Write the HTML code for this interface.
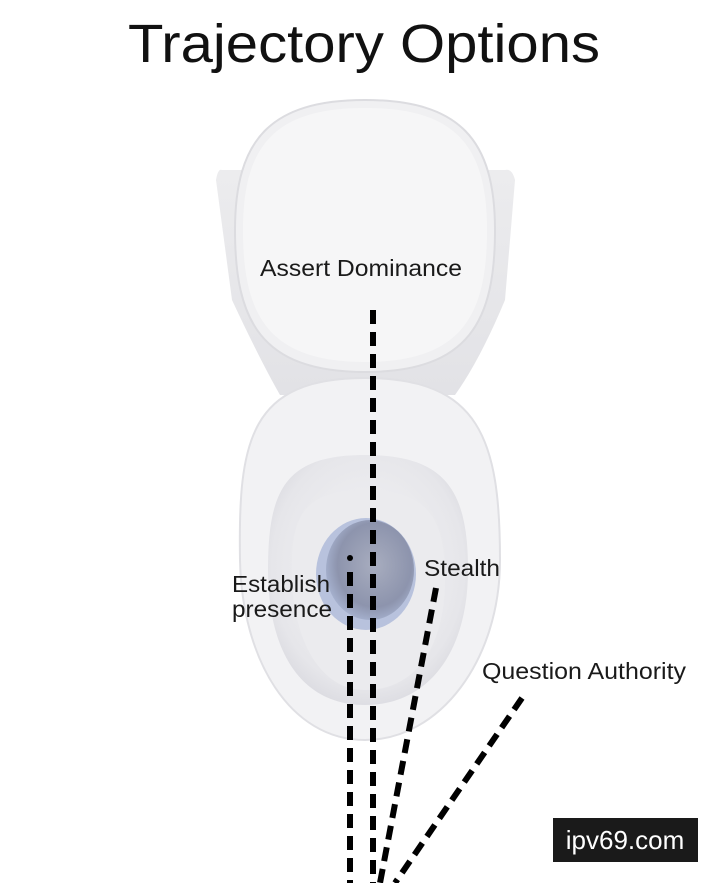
<!DOCTYPE html>
<html><head><style>
html,body{margin:0;padding:0;background:#fff;}
svg{display:block}
</style></head><body>
<svg width="720" height="883" viewBox="0 0 720 883" xmlns="http://www.w3.org/2000/svg">
<defs>
<radialGradient id="bowl" cx="50%" cy="45%" r="60%"><stop offset="0" stop-color="#f4f4f6"/><stop offset="0.8" stop-color="#e6e6ea"/><stop offset="1" stop-color="#d8d8de"/></radialGradient>
<radialGradient id="water" cx="55%" cy="45%" r="60%"><stop offset="0" stop-color="#a8adbf"/><stop offset="0.7" stop-color="#8d94ad"/><stop offset="1" stop-color="#aab6d4"/></radialGradient>
<linearGradient id="tank" x1="0" y1="0" x2="0" y2="1"><stop offset="0" stop-color="#ececee"/><stop offset="1" stop-color="#e2e2e6"/></linearGradient>
</defs>
<rect width="720" height="883" fill="#fff"/>
<text x="128" y="62" textLength="472" lengthAdjust="spacingAndGlyphs" font-family="Liberation Sans, sans-serif" font-size="54" fill="#111">Trajectory Options</text>
<path d="M222 170 Q218 168 216 180 L232 300 Q260 360 280 395 L455 395 Q480 360 505 300 L515 180 Q512 168 505 170 Z" fill="url(#tank)"/>
<path d="M365 378 C250 378 238 440 240 560 C242 660 290 740 365 740 C440 740 500 660 500 560 C500 440 480 378 365 378 Z" fill="#f2f2f4" stroke="#e0e0e4" stroke-width="2"/>
<path d="M365 455 C285 455 268 490 268 570 C268 650 300 705 365 705 C430 705 468 650 468 570 C468 490 445 455 365 455 Z" fill="url(#bowl)"/>
<path d="M365 490 C300 490 290 520 292 580 C294 640 320 690 365 690 C420 690 445 640 445 580 C445 520 430 490 365 490 Z" fill="#ebebee"/>
<ellipse cx="366" cy="574" rx="50" ry="56" fill="#b8c2dd"/>
<ellipse cx="370" cy="570" rx="44" ry="50" fill="url(#water)"/>
<path d="M365 100 C460 100 495 140 495 230 C495 320 470 372 365 372 C260 372 235 320 235 230 C235 140 270 100 365 100 Z" fill="#f0f0f2" stroke="#dcdce0" stroke-width="2"/>
<path d="M365 108 C455 108 487 145 487 230 C487 315 462 362 365 362 C268 362 243 315 243 230 C243 145 275 108 365 108 Z" fill="#f6f6f7"/>
<g font-family="Liberation Sans, sans-serif" font-size="23" fill="#1a1a1a" lengthAdjust="spacingAndGlyphs">
<text x="260" y="276" textLength="202" lengthAdjust="spacingAndGlyphs">Assert Dominance</text>
<text x="424" y="576" textLength="76" lengthAdjust="spacingAndGlyphs">Stealth</text>
<text x="232" y="592" textLength="98" lengthAdjust="spacingAndGlyphs">Establish</text>
<text x="232" y="617" textLength="100" lengthAdjust="spacingAndGlyphs">presence</text>
<text x="482" y="679" textLength="204" lengthAdjust="spacingAndGlyphs">Question Authority</text>
</g>
<g stroke="#000" stroke-width="6" stroke-dasharray="14 8" fill="none">
<line x1="373" y1="310" x2="373" y2="883"/>
<line x1="350" y1="572" x2="350" y2="883"/>
<line x1="436" y1="588" x2="380" y2="883"/>
<line x1="522" y1="698" x2="395" y2="883"/>
</g>
<circle cx="350" cy="558" r="3" fill="#000"/>
<rect x="553" y="818" width="145" height="44" fill="#1a1a1a"/>
<text x="625" y="849" text-anchor="middle" font-family="Liberation Sans, sans-serif" font-size="26" fill="#fff">ipv69.com</text>
</svg>
</body></html>
